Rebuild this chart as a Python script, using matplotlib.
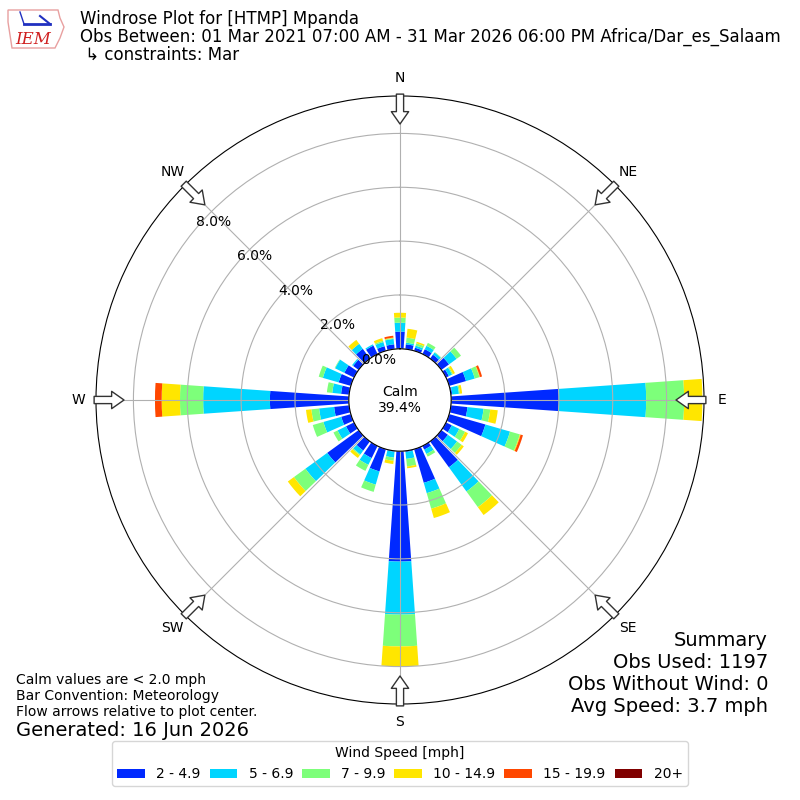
import numpy as np
import matplotlib
matplotlib.use("Agg")
import matplotlib.pyplot as plt
from matplotlib.patches import Patch, Polygon
from matplotlib.lines import Line2D

# ---------------- data ----------------
directions = list(range(0, 360, 10))
speed_labels = ["2 - 4.9", "5 - 6.9", "7 - 9.9", "10 - 14.9", "15 - 19.9", "20+"]

pct_2_5 = [0.64, 0.18, 0.12, 0.20, 0.18, 0.35, 0.12, 0.65, 0.05, 4.00,
           0.62, 1.40, 0.24, 0.30, 1.19, 0.15, 1.30, 0.04, 4.10, 0.03,
           0.86, 0.50, 0.42, 1.44, 0.33, 0.37, 0.56, 2.93, 0.30, 0.47,
           0.40, 0.25, 0.45, 0.35, 0.18, 0.18]
pct_5_7 = [0.33, 0.06, 0.08, 0.14, 0.10, 0.35, 0.13, 0.34, 0.25, 3.24,
           0.60, 0.95, 0.31, 0.42, 1.11, 0.18, 0.40, 0.26, 1.97, 0.22,
           0.51, 0.28, 0.18, 1.00, 0.35, 0.69, 0.56, 2.48, 0.33, 0.61,
           0.38, 0.05, 0.23, 0.05, 0.16, 0.20]
pct_7_10 = [0.19, 0.19, 0.09, 0.12, 0.02, 0.20, 0.04, 0.18, 0.04, 1.41,
            0.25, 0.38, 0.24, 0.21, 0.72, 0.11, 0.60, 0.28, 1.18, 0.12,
            0.28, 0.25, 0.04, 0.53, 0.17, 0.41, 0.29, 0.86, 0.20, 0.16,
            0.02, 0.00, 0.00, 0.00, 0.05, 0.03]
pct_10_15 = [0.18, 0.33, 0.06, 0.00, 0.00, 0.00, 0.08, 0.02, 0.08, 0.68,
             0.28, 0.03, 0.12, 0.10, 0.36, 0.00, 0.36, 0.07, 0.74, 0.12,
             0.00, 0.00, 0.12, 0.28, 0.00, 0.00, 0.20, 0.68, 0.00, 0.00,
             0.00, 0.00, 0.18, 0.00, 0.10, 0.02]
pct_15_20 = [0.00, 0.00, 0.00, 0.00, 0.00, 0.00, 0.00, 0.08, 0.00, 0.00,
             0.00, 0.09, 0.00, 0.00, 0.00, 0.00, 0.00, 0.00, 0.00, 0.00,
             0.00, 0.00, 0.00, 0.00, 0.00, 0.00, 0.00, 0.25, 0.00, 0.00,
             0.00, 0.00, 0.00, 0.00, 0.00, 0.07]
pct_20p = [0.0] * 36

series = [pct_2_5, pct_5_7, pct_7_10, pct_10_15, pct_15_20, pct_20p]

calm_pct = 39.4
rticks = [0, 2, 4, 6, 8]
compass_labels = ["N", "NE", "E", "SE", "S", "SW", "W", "NW"]

# ---------------- figure ----------------
fig = plt.figure(figsize=(8, 8), dpi=100)
ax = fig.add_axes([0.12, 0.12, 0.76, 0.76], projection="polar")
ax.set_theta_zero_location("N")
ax.set_theta_direction(-1)

colors = plt.cm.jet(np.linspace(0, 1, 7))[1:]
theta = np.deg2rad(directions)
width = np.deg2rad(10) * 0.8
bottom = np.zeros(len(directions))
for vals, col in zip(series, colors):
    v = np.array(vals)
    ax.bar(theta, v, width=width, bottom=bottom, color=col, linewidth=0, zorder=1)
    bottom = bottom + v

rmax = 9.39
ax.set_ylim(0, rmax)
ax.set_rorigin(-1.90)
ax.set_yticks(rticks)
ax.set_yticklabels([f"{t:.1f}%" for t in rticks], fontsize=10)
ax.set_rlabel_position(310)
ax.set_xticks(np.deg2rad(np.arange(0, 360, 45)))
ax.set_xticklabels(compass_labels, fontsize=10)
ax.tick_params(axis="x", pad=2.5)
ax.grid(True, color="#b0b0b0", lw=0.8)

# flow arrows
for d in range(0, 360, 45):
    th = np.deg2rad(d)
    ax.annotate("", xy=(th, 8.35), xytext=(th, 9.46), annotation_clip=False,
                arrowprops=dict(arrowstyle="simple,head_length=0.89,head_width=1.25,tail_width=0.52",
                                fc="white", ec="#333333", lw=1, shrinkA=0, shrinkB=0,
                                mutation_scale=10), zorder=5)

ax.text(0.5, 0.5, f"Calm\n{calm_pct:.1f}%", transform=ax.transAxes,
        ha="center", va="center", fontsize=10)

# ---------------- texts ----------------
def fx(px):
    return px / 800.0

def fy(py):
    return 1 - py / 800.0

fig.text(fx(80), fy(19), "Windrose Plot for [HTMP] Mpanda", fontsize=12, va="center")
fig.text(fx(80), fy(37), "Obs Between: 01 Mar 2021 07:00 AM - 31 Mar 2026 06:00 PM Africa/Dar_es_Salaam",
         fontsize=12, va="center")
fig.text(fx(80), fy(55), " \u21b3 constraints: Mar", fontsize=12, va="center")

fig.text(fx(16), fy(680), "Calm values are < 2.0 mph", fontsize=10, va="center")
fig.text(fx(16), fy(696), "Bar Convention: Meteorology", fontsize=10, va="center")
fig.text(fx(16), fy(712), "Flow arrows relative to plot center.", fontsize=10, va="center")
fig.text(fx(16), fy(730), "Generated: 16 Jun 2026", fontsize=14, va="center")

summary = ["Summary", "Obs Used: 1197", "Obs Without Wind: 0", "Avg Speed: 3.7 mph"]
for i, s in enumerate(summary):
    fig.text(fx(768), fy(640 + 22 * i), s, fontsize=14, va="center", ha="right")

# logo (simple approximation)
logo_pts = [(8, 10), (58, 10), (60, 18), (64, 27), (60, 38), (55, 48), (12, 48), (10, 35), (8, 22)]
fig.add_artist(Polygon([(fx(x), fy(y)) for x, y in logo_pts], closed=True, fill=False,
                       ec="#e8a0a0", lw=1, transform=fig.transFigure))
fig.add_artist(Line2D([fx(24), fx(50)], [fy(24), fy(24)], color="#2030c0", lw=2, transform=fig.transFigure))
fig.add_artist(Line2D([fx(40), fx(50)], [fy(16), fy(24)], color="#2030c0", lw=1.5, transform=fig.transFigure))
fig.add_artist(Line2D([fx(20), fx(24)], [fy(12), fy(24)], color="#2030c0", lw=1, transform=fig.transFigure))
fig.text(fx(33), fy(39), "IEM", fontsize=12, color="#d02020", style="italic",
         family="DejaVu Serif", ha="center", va="center")

# legend
handles = [Patch(facecolor=c, label=l) for c, l in zip(colors, speed_labels)]
fig.legend(handles=handles, loc="lower center", bbox_to_anchor=(0.5, 0.009), ncol=6,
           title="Wind Speed [mph]", fontsize=10, title_fontsize=10, columnspacing=0.65,
           borderpad=0.35, handleheight=0.6)

fig.savefig("out.png", dpi=100)
